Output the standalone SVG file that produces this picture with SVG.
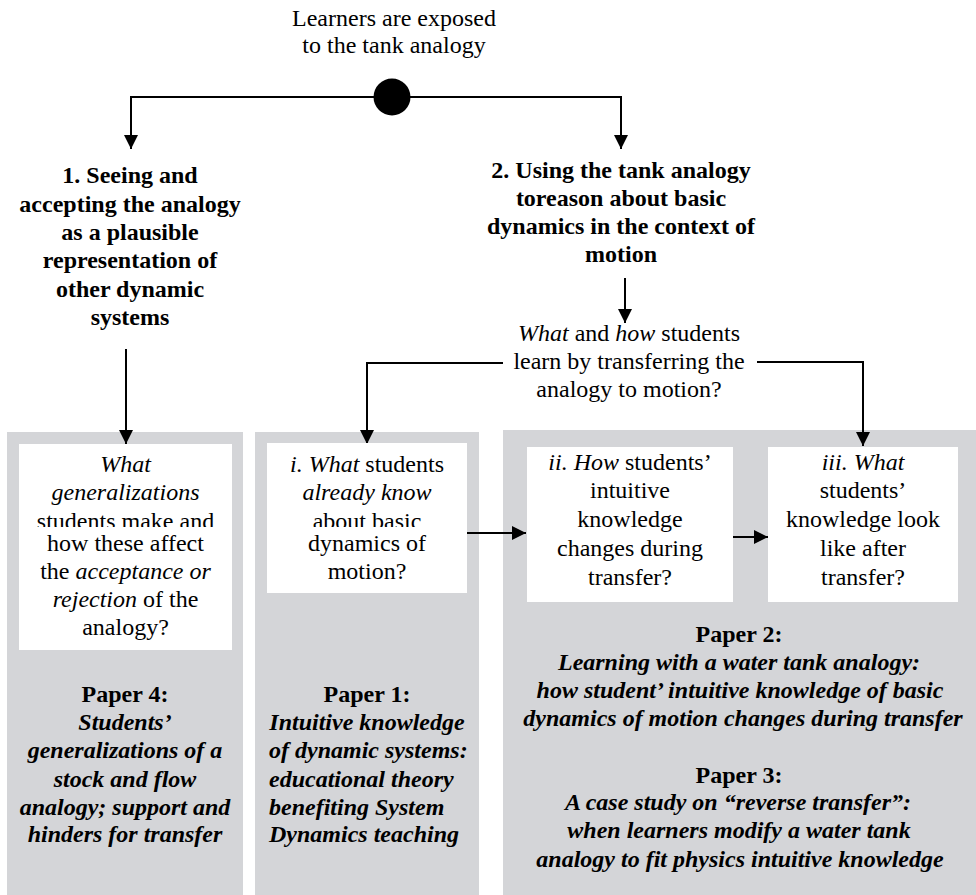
<svg xmlns="http://www.w3.org/2000/svg" width="976" height="895" viewBox="0 0 976 895" font-family="'Liberation Serif', 'Times New Roman', Times, 'DejaVu Serif', serif">
<style>
text{font-family:"Liberation Serif","Times New Roman",Times,"DejaVu Serif",serif;font-size:24px;fill:#000;text-anchor:middle}
.b{font-weight:bold}
.i{font-style:italic}
.bi{font-weight:bold;font-style:italic}
.panel{fill:#d4d5d8}
.box{fill:#fff}
.con{fill:none;stroke:#000;stroke-width:2;marker-end:url(#ah)}
</style>
<defs>
<marker id="ah" markerUnits="userSpaceOnUse" markerWidth="14" markerHeight="14" viewBox="0 0 14 14" refX="14" refY="7" orient="auto">
<path d="M0,0 L14,7 L0,14 z" fill="#000"/>
</marker>
<clipPath id="clipA"><rect x="0" y="440" width="976" height="87"/></clipPath>
</defs>
<rect width="976" height="895" fill="#fff"/>

<g id="panels">
<rect class="panel" x="7" y="432" width="236" height="463"/>
<rect class="panel" x="255" y="432" width="224" height="463"/>
<rect class="panel" x="503" y="430" width="473" height="465"/>
</g>

<g id="start">
<text x="394" y="26">Learners are exposed</text>
<text x="394" y="53">to the tank analogy</text>
</g>

<g id="connectors">
<path class="con" d="M392,97 H131 V149"/>
<path class="con" d="M392,97 H621 V149"/>
<path class="con" d="M126,349 V444"/>
<path class="con" d="M625,278 V323"/>
<path class="con" d="M503,363 H367 V444"/>
<path class="con" d="M757,362 H863 V446"/>
<path class="con" d="M467,533 H526"/>
<path class="con" d="M733,537 H768"/>
</g>

<g id="split">
<circle cx="392" cy="97" r="18.5" fill="#000"/>
</g>

<g id="heading1">
<text class="b" x="130" y="183">1. Seeing and</text>
<text class="b" x="130" y="212">accepting the analogy</text>
<text class="b" x="130" y="240">as a plausible</text>
<text class="b" x="130" y="268">representation of</text>
<text class="b" x="130" y="297">other dynamic</text>
<text class="b" x="130" y="325">systems</text>
</g>

<g id="heading2">
<text class="b" x="621" y="178">2. Using the tank analogy</text>
<text class="b" x="621" y="206">toreason about basic</text>
<text class="b" x="621" y="234">dynamics in the context of</text>
<text class="b" x="621" y="262">motion</text>
</g>

<g id="question">
<text x="629" y="341"><tspan class="i">What</tspan> and <tspan class="i">how</tspan> students</text>
<text x="629" y="369">learn by transferring the</text>
<text x="629" y="397">analogy to motion?</text>
</g>

<g id="boxA">
<rect class="box" x="19" y="444" width="213" height="206"/>
<text class="i" x="125.5" y="472">What</text>
<text class="i" x="125.5" y="500">generalizations</text>
<text x="125.5" y="529" clip-path="url(#clipA)">students make and</text>
<text x="125.5" y="551">how these affect</text>
<text x="125.5" y="579">the <tspan class="i">acceptance or</tspan></text>
<text x="125.5" y="607"><tspan class="i">rejection</tspan> of the</text>
<text x="125.5" y="635">analogy?</text>
</g>

<g id="boxB">
<rect class="box" x="267" y="443" width="200" height="150"/>
<text x="367" y="472"><tspan class="i">i. What</tspan> students</text>
<text class="i" x="367" y="500">already know</text>
<text x="367" y="529" clip-path="url(#clipA)">about basic</text>
<text x="367" y="551">dynamics of</text>
<text x="367" y="579">motion?</text>
</g>

<g id="boxC">
<rect class="box" x="527" y="447" width="206" height="155"/>
<text x="630" y="470"><tspan class="i">ii. How</tspan> students’</text>
<text x="630" y="498">intuitive</text>
<text x="630" y="527">knowledge</text>
<text x="630" y="556">changes during</text>
<text x="630" y="585">transfer?</text>
</g>

<g id="boxD">
<rect class="box" x="768" y="447" width="190" height="155"/>
<text class="i" x="863" y="470">iii. What</text>
<text x="863" y="498">students’</text>
<text x="863" y="527">knowledge look</text>
<text x="863" y="556">like after</text>
<text x="863" y="585">transfer?</text>
</g>

<g id="paper4">
<text class="b" x="125" y="702">Paper 4:</text>
<text class="bi" x="125" y="730">Students’</text>
<text class="bi" x="125" y="758">generalizations of a</text>
<text class="bi" x="125" y="787">stock and flow</text>
<text class="bi" x="125" y="815">analogy; support and</text>
<text class="bi" x="125" y="842">hinders for transfer</text>
</g>

<g id="paper1">
<text class="b" x="367" y="702">Paper 1:</text>
<text class="bi" x="367" y="730">Intuitive knowledge</text>
<text class="bi" x="269" y="758" style="text-anchor:start">of dynamic systems:</text>
<text class="bi" x="269" y="787" style="text-anchor:start">educational theory</text>
<text class="bi" x="269" y="815" style="text-anchor:start">benefiting System</text>
<text class="bi" x="269" y="842" style="text-anchor:start">Dynamics teaching</text>
</g>

<g id="paper2">
<text class="b" x="739" y="642">Paper 2:</text>
<text class="bi" x="739" y="670">Learning with a water tank analogy:</text>
<text class="bi" x="740" y="698">how student’ intuitive knowledge of basic</text>
<text class="bi" x="743" y="726">dynamics of motion changes during transfer</text>
</g>

<g id="paper3">
<text class="b" x="739" y="783">Paper 3:</text>
<text class="bi" x="738" y="810">A case study on “reverse transfer”:</text>
<text class="bi" x="739" y="838">when learners modify a water tank</text>
<text class="bi" x="740" y="867">analogy to fit physics intuitive knowledge</text>
</g>
</svg>
